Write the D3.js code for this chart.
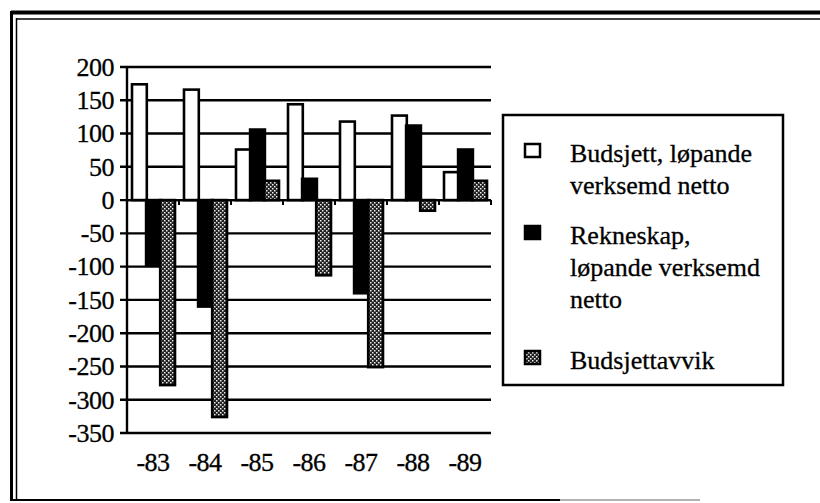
<!DOCTYPE html>
<html lang="no">
<head>
<meta charset="UTF-8">
<title>Budsjett og rekneskap</title>
<script src="https://d3js.org/d3.v7.min.js"></script>
<style>
    body { margin: 0; background: #fff; }
    svg text { font-family: 'Liberation Serif', 'Times New Roman', Times, serif; fill: #000; stroke: #000; stroke-width: 0.3px; }
    .grid line { stroke: #000; stroke-width: 2.4px; }
</style>
</head>
<body>
<div id="chart"></div>
<script>
    // data
    const years = ["-83", "-84", "-85", "-86", "-87", "-88", "-89"];
    const budsjett = [174, 166, 76, 144, 118, 127, 42];
    const rekneskap = [-98, -160, 106, 32, -140, 112, 76];
    const avvik = [-278, -326, 29, -113, -251, -16, 29];
    const yTicks = [200, 150, 100, 50, 0, -50, -100, -150, -200, -250, -300, -350];
    const legendLines = [["Budsjett, løpande", "verksemd netto"], ["Rekneskap,", "løpande verksemd", "netto"], ["Budsjettavvik"]];

    const W = 820, H = 503;
    const serif = "'Liberation Serif', 'Times New Roman', Times, serif";
    const svg = d3.select("#chart").append("svg").attr("width", W).attr("height", H)
        .attr("font-family", serif);

    // stipple pattern for the third series
    const defs = svg.append("defs");
    const pat = defs.append("pattern").attr("id", "stipple")
        .attr("width", 4).attr("height", 4).attr("patternUnits", "userSpaceOnUse");
    pat.append("rect").attr("width", 4).attr("height", 4).attr("fill", "#222");
    pat.append("rect").attr("x", 0).attr("y", 0).attr("width", 1.5).attr("height", 1.5).attr("fill", "#eee");
    pat.append("rect").attr("x", 2).attr("y", 2).attr("width", 1.5).attr("height", 1.5).attr("fill", "#eee");

    const fills = ["#fff", "#000", "url(#stipple)"];

    // outer frame (double line, cut off on the right)
    svg.append("line").attr("x1", 11).attr("x2", 820).attr("y1", 12.5).attr("y2", 12.5).attr("stroke", "#000").attr("stroke-width", 4);
    svg.append("line").attr("x1", 16).attr("x2", 820).attr("y1", 19).attr("y2", 19).attr("stroke", "#000").attr("stroke-width", 1.5);
    svg.append("line").attr("x1", 11.5).attr("x2", 11.5).attr("y1", 11).attr("y2", 501).attr("stroke", "#000").attr("stroke-width", 3);
    svg.append("line").attr("x1", 16.5).attr("x2", 16.5).attr("y1", 18).attr("y2", 500).attr("stroke", "#000").attr("stroke-width", 1.5);
    svg.append("line").attr("x1", 11).attr("x2", 560).attr("y1", 500).attr("y2", 500).attr("stroke", "#000").attr("stroke-width", 2);
    svg.append("line").attr("x1", 560).attr("x2", 700).attr("y1", 500).attr("y2", 500).attr("stroke", "#999").attr("stroke-width", 1.5);

    const left = 127, right = 491;
    const y = d3.scaleLinear().domain([-350, 200]).range([433, 67]);
    const x0 = d3.scaleBand().domain(years).range([left, right]);
    const x1 = d3.scaleBand().domain([0, 1, 2]).range([5, 48]).paddingInner(-0.05);

    // gridlines
    const grid = svg.append("g").attr("class", "grid");
    grid.selectAll("line").data(yTicks).join("line")
        .attr("x1", left - 7).attr("x2", right)
        .attr("y1", d => y(d)).attr("y2", d => y(d));

    // y tick labels
    svg.append("g").selectAll("text").data(yTicks).join("text")
        .attr("x", 114).attr("y", d => y(d)).attr("dy", "0.34em")
        .attr("text-anchor", "end").attr("font-size", 26)
        .attr("letter-spacing", "-0.5px")
        .text(d => d);

    // bars
    const series = [budsjett, rekneskap, avvik];
    series.forEach((vals, i) => {
        svg.append("g").selectAll("rect").data(vals).join("rect")
            .attr("x", (d, j) => x0(years[j]) + x1(i))
            .attr("width", x1.bandwidth())
            .attr("y", d => y(Math.max(0, d)))
            .attr("height", d => Math.abs(y(d) - y(0)))
            .attr("fill", fills[i])
            .attr("stroke", "#000").attr("stroke-width", 2.6);
    });

    // zero line with small category ticks
    svg.append("line").attr("x1", left).attr("x2", right).attr("y1", y(0)).attr("y2", y(0))
        .attr("stroke", "#000").attr("stroke-width", 2.4);
    svg.append("g").selectAll("line").data(d3.range(years.length + 1)).join("line")
        .attr("x1", i => left + i * x0.bandwidth()).attr("x2", i => left + i * x0.bandwidth())
        .attr("y1", y(0)).attr("y2", y(0) + 5)
        .attr("stroke", "#000").attr("stroke-width", 2);

    // left axis line
    svg.append("line").attr("x1", left).attr("x2", left).attr("y1", y(200)).attr("y2", y(-350))
        .attr("stroke", "#000").attr("stroke-width", 2.4);

    // x labels
    svg.append("g").selectAll("text").data(years).join("text")
        .attr("x", d => x0(d) + x0.bandwidth() / 2).attr("y", 471)
        .attr("text-anchor", "middle").attr("font-size", 26)
        .attr("letter-spacing", "-0.5px")
        .text(d => d);

    // legend
    const lg = svg.append("g");
    lg.append("rect").attr("x", 503).attr("y", 115).attr("width", 280).attr("height", 270)
        .attr("fill", "#fff").attr("stroke", "#000").attr("stroke-width", 2.5);
    const entryTop = [153, 235, 360];
    legendLines.forEach((lines, i) => {
        lg.append("rect").attr("x", 525).attr("y", entryTop[i] - 9).attr("width", 15).attr("height", 13)
            .attr("fill", fills[i]).attr("stroke", "#000").attr("stroke-width", 2.5);
        lg.append("text").attr("font-size", 26)
            .selectAll("tspan").data(lines).join("tspan")
            .attr("x", 570).attr("y", (d, k) => entryTop[i] + k * 32).attr("dy", "0.34em")
            .text(d => d);
    });
</script>
</body>
</html>
